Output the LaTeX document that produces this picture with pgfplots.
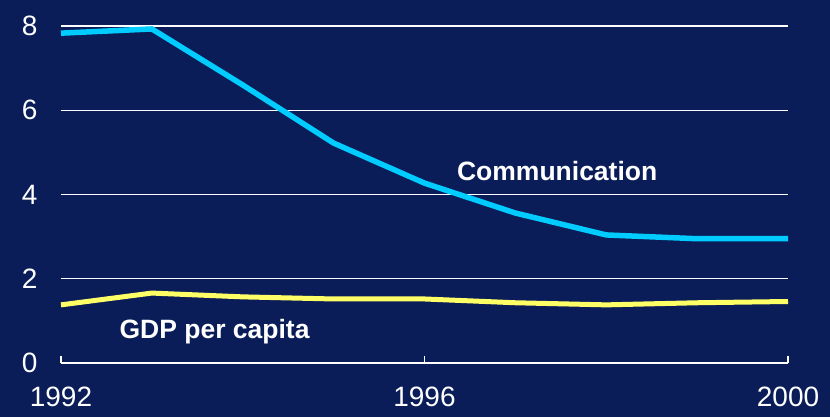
\documentclass[border=0pt]{standalone}
\usepackage{pgfplots}
\pgfplotsset{compat=1.18}
\usepackage{fontspec}
\setmainfont{Liberation Sans}
\definecolor{bg}{HTML}{0A1D58}
\definecolor{cyanl}{HTML}{00CCFF}
\definecolor{yell}{HTML}{FFFF66}
\begin{document}
\begin{tikzpicture}
\useasboundingbox (0,0) rectangle (830bp,417bp);
\fill[bg] (0,0) rectangle (830bp,417bp);
\begin{axis}[
  at={(61bp,54bp)}, anchor=south west,
  scale only axis, width=727bp, height=337bp,
  xmin=1992, xmax=2000, ymin=0, ymax=8,
  clip=false,
  axis line style={draw=none},
  xtick={1992,1996,2000}, ytick={0,2,4,6,8},
  xticklabels={1992,1996,2000},
  xtick pos=bottom, ytick pos=left,
  ymajorgrids, grid style={white, line width=1.3bp},
  tick align=inside, major tick length=7bp,
  xtick style={white, line width=1.3bp},
  ytick style={draw=none},
  /pgf/number format/assume math mode=true,
  ticklabel style={font=\fontsize{28bp}{31bp}\selectfont, text=white},
  xticklabel style={yshift=-23bp, inner sep=1bp},
  yticklabel style={xshift=-20bp},
]
\addplot[cyanl, line width=5.5bp] coordinates {
(1992,7.83) (1993,7.93) (1994,6.60) (1995,5.22) (1996,4.27) (1997,3.56) (1998,3.04) (1999,2.95) (2000,2.95)};
\addplot[yell, line width=5bp] coordinates {
(1992,1.38) (1993,1.66) (1994,1.57) (1995,1.52) (1996,1.52) (1997,1.43) (1998,1.38) (1999,1.43) (2000,1.46)};
\node[text=white, font=\bfseries\fontsize{26.5bp}{29bp}\selectfont] at (axis cs:1997.46,4.56) {Communication};
\node[text=white, font=\bfseries\fontsize{26.5bp}{29bp}\selectfont] at (axis cs:1993.69,0.74) {GDP per capita};
\end{axis}
\end{tikzpicture}
\end{document}
